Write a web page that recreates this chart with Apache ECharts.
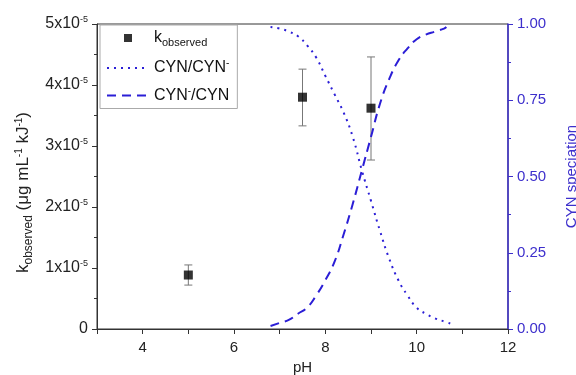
<!DOCTYPE html>
<html>
<head>
<meta charset="utf-8">
<script src="https://cdn.jsdelivr.net/npm/echarts@6/dist/echarts.min.js"></script>
<style>html,body{margin:0;padding:0;background:#fff}#chart{width:576px;height:375px}</style>
</head>
<body>
<div id="chart"></div>
<script>
// measured rate constants
var phObs = [5, 7.5, 9];
var kObs = [0.885e-5, 3.80e-5, 3.62e-5];
var kLow = [0.72e-5, 3.33e-5, 2.77e-5];
var kHigh = [1.05e-5, 4.26e-5, 4.46e-5];

// speciation curves
var phNeutral = [6.8, 7.0, 7.2, 7.4, 7.6, 7.8, 8.0, 8.2, 8.4, 8.6, 8.8, 9.0, 9.2, 9.4, 9.6, 9.8, 10.0, 10.2, 10.4, 10.6, 10.8];
var fracNeutral = [0.99, 0.985, 0.975, 0.96, 0.93, 0.89, 0.83, 0.77, 0.71, 0.63, 0.52, 0.42, 0.32, 0.23, 0.16, 0.11, 0.07, 0.05, 0.035, 0.025, 0.015];
var phAnion = [6.8, 7.0, 7.2, 7.4, 7.6, 7.8, 8.0, 8.2, 8.4, 8.6, 8.8, 9.0, 9.2, 9.4, 9.6, 9.8, 10.0, 10.2, 10.4, 10.6, 10.65];
var fracAnion = [0.01, 0.02, 0.03, 0.05, 0.07, 0.11, 0.16, 0.22, 0.31, 0.41, 0.52, 0.63, 0.74, 0.82, 0.88, 0.92, 0.95, 0.965, 0.975, 0.985, 0.99];

var xLabels = [4, 6, 8, 10, 12];

var FONT = 'Liberation Sans, Arial, sans-serif';
var BLUE = '#2b1ed6';
var AXBLUE = '#3d2fcc';

function zip(a, b) {
  return a.map(function (v, i) { return [v, b[i]]; });
}

var chart = echarts.init(document.getElementById('chart'));
var option = {
  animation: false,
  textStyle: { fontFamily: FONT },
  grid: {
    left: 97, right: 68, top: 24, bottom: 46,
    outerBoundsMode: 'none', containLabel: false,
    show: true, borderColor: '#333', borderWidth: 1
  },
  legend: {
    orient: 'vertical',
    left: 100, top: 25,
    padding: [5, 8, 5, 6],
    itemWidth: 42, itemHeight: 10, itemGap: 10,
    borderColor: '#aaa', borderWidth: 1,
    data: [
      // square marker centred in the 42px icon slot
      { name: 'kobs', icon: 'path://M0,0M42,10M17,1h8v8h-8z' },
      { name: 'neutral', itemStyle: { opacity: 0 } },
      { name: 'anion', itemStyle: { opacity: 0 } }
    ],
    formatter: function (name) {
      if (name === 'kobs') return '{t|k}{sub|observed}';
      if (name === 'neutral') return '{t|CYN/CYN}{sup|-}';
      return '{t|CYN}{sup|-}{t|/CYN}';
    },
    textStyle: {
      color: '#111',
      rich: {
        t: { fontSize: 16, color: '#111', fontFamily: FONT },
        sub: { fontSize: 11, color: '#111', fontFamily: FONT, padding: [10, 0, 0, 0] },
        sup: { fontSize: 10, color: '#111', fontFamily: FONT, padding: [0, 0, 9, 0] }
      }
    }
  },
  xAxis: {
    type: 'value', min: 3, max: 12, interval: 1,
    name: 'pH', nameLocation: 'middle', nameGap: 29,
    nameTextStyle: { fontSize: 15, color: '#222', fontFamily: FONT },
    axisLine: { lineStyle: { color: '#333', width: 1 } },
    axisTick: { length: 5, lineStyle: { color: '#333' } },
    axisLabel: {
      fontSize: 15, color: '#222', margin: 11,
      formatter: function (v) { return xLabels.indexOf(v) >= 0 ? String(v) : ''; }
    },
    splitLine: { show: false }
  },
  yAxis: [{
    type: 'value', min: 0, max: 5e-5, interval: 1e-5, position: 'left',
    name: '{t|k}{sub|observed}{t| (μg mL}{sup|-1}{t| kJ}{sup|-1}{t|)}',
    nameLocation: 'middle', nameGap: 60, nameRotate: 90,
    nameTextStyle: {
      padding: [0, 32, 0, 0],
      rich: {
        t: { fontSize: 17, color: '#222', fontFamily: FONT },
        sub: { fontSize: 12, color: '#222', fontFamily: FONT, padding: [10, 0, 0, 0] },
        sup: { fontSize: 10, color: '#222', fontFamily: FONT, padding: [0, 0, 9, 0] }
      }
    },
    axisLine: { show: true, lineStyle: { color: '#333' } },
    axisTick: { show: true, length: 5, lineStyle: { color: '#333' } },
    minorTick: { show: true, splitNumber: 2, length: 3, lineStyle: { color: '#333' } },
    axisLabel: {
      margin: 9,
      formatter: function (v) {
        var n = Math.round(v / 1e-5);
        if (n === 0) return '{t|0}';
        return '{t|' + n + 'x10}{sup|-5}';
      },
      rich: {
        t: { fontSize: 16, color: '#222', fontFamily: FONT },
        sup: { fontSize: 9, color: '#222', fontFamily: FONT, padding: [0, 0, 8, 0] }
      }
    },
    splitLine: { show: false }
  }, {
    type: 'value', min: 0, max: 1, interval: 0.25, position: 'right',
    name: 'CYN speciation', nameLocation: 'middle', nameGap: 56, nameRotate: 90,
    nameTextStyle: { fontSize: 15, color: AXBLUE, fontFamily: FONT },
    axisLine: { show: true, lineStyle: { color: AXBLUE, width: 1.5 } },
    axisTick: { show: true, length: 5, lineStyle: { color: AXBLUE } },
    minorTick: { show: true, splitNumber: 2, length: 3, lineStyle: { color: AXBLUE } },
    axisLabel: {
      fontSize: 15, color: AXBLUE, margin: 9,
      formatter: function (v) { return v.toFixed(2); }
    },
    splitLine: { show: false }
  }],
  series: [{
    name: 'neutral', type: 'line', yAxisIndex: 1,
    data: zip(phNeutral, fracNeutral), smooth: true,
    symbol: 'none', showSymbol: false,
    lineStyle: { color: BLUE, width: 2, type: [2, 5] },
    itemStyle: { color: BLUE }
  }, {
    name: 'anion', type: 'line', yAxisIndex: 1,
    data: zip(phAnion, fracAnion), smooth: true,
    symbol: 'none', showSymbol: false,
    lineStyle: { color: BLUE, width: 2, type: [9, 6] },
    itemStyle: { color: BLUE }
  }, {
    name: 'errors', type: 'custom', yAxisIndex: 0, z: 3,
    data: phObs.map(function (p, i) { return [p, kLow[i], kHigh[i]]; }),
    renderItem: function (params, api) {
      var lo = api.coord([api.value(0), api.value(1)]);
      var hi = api.coord([api.value(0), api.value(2)]);
      var w = 4;
      var st = { stroke: '#777', lineWidth: 1 };
      return {
        type: 'group',
        children: [
          { type: 'line', shape: { x1: lo[0], y1: lo[1], x2: hi[0], y2: hi[1] }, style: st },
          { type: 'line', shape: { x1: lo[0] - w, y1: lo[1], x2: lo[0] + w, y2: lo[1] }, style: st },
          { type: 'line', shape: { x1: hi[0] - w, y1: hi[1], x2: hi[0] + w, y2: hi[1] }, style: st }
        ]
      };
    }
  }, {
    name: 'kobs', type: 'scatter', yAxisIndex: 0, z: 4,
    data: zip(phObs, kObs),
    symbol: 'rect', symbolSize: 9,
    itemStyle: { color: '#000' }
  }]
};
chart.setOption(option);
</script>
</body>
</html>
